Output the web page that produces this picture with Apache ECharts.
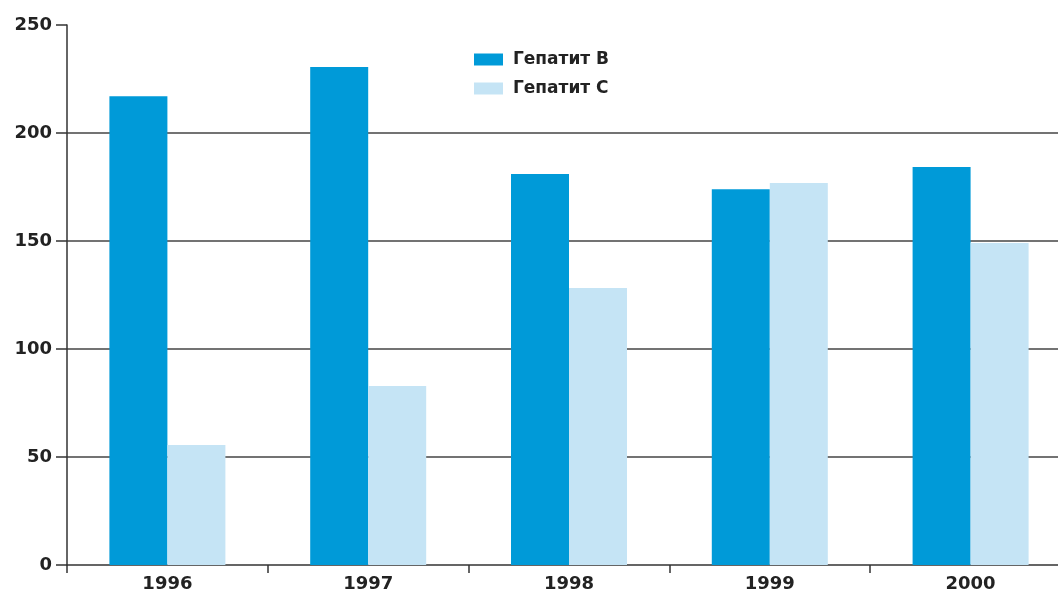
<!DOCTYPE html>
<html><head><meta charset="utf-8">
<script src="https://cdn.jsdelivr.net/npm/echarts@6/dist/echarts.min.js"></script>
<style>html,body{margin:0;padding:0;background:#fff}#c{width:1058px;height:592px}</style>
</head><body><div id="c"></div>
<script>
const categories = ['1996','1997','1998','1999','2000'];
const hepB = [217, 230.5, 181, 174, 184.3];
const hepC = [55.6, 82.9, 128.2, 176.9, 149.1];
const seriesNames = ['Гепатит В', 'Гепатит С'];
const font = 'DejaVu Sans, Arial, sans-serif';
const chart = echarts.init(document.getElementById('c'));
chart.setOption({
  animation: false,
  backgroundColor: '#fff',
  grid: {left: 67, width: 1004, top: 25, height: 540, containLabel: false, outerBoundsMode: 'none'},
  legend: {
    left: 469, top: 46, orient: 'vertical', itemWidth: 29, itemHeight: 12, itemGap: 12,
    icon: 'rect',
    textStyle: {fontFamily: font, fontSize: 17, fontWeight: 'bold', color: '#222', padding: [0,0,0,5]},
    data: seriesNames
  },
  xAxis: {
    type: 'category', data: categories,
    axisLine: {lineStyle: {color: '#333', width: 1.5}},
    axisTick: {show: true, length: 8, lineStyle: {color: '#333', width: 1.5}},
    axisLabel: {fontFamily: font, fontSize: 18, fontWeight: 'bold', color: '#222', margin: 10}
  },
  yAxis: {
    type: 'value', min: 0, max: 250, interval: 50,
    axisLine: {show: true, lineStyle: {color: '#333', width: 1.5}},
    axisTick: {show: true, length: 11, lineStyle: {color: '#333', width: 1.5}},
    axisLabel: {fontFamily: font, fontSize: 18, fontWeight: 'bold', color: '#222', margin: 15},
    splitLine: {show: true, showMaxLine: false, showMinLine: false, lineStyle: {color: '#444', width: 1.5}}
  },
  series: [
    {name: seriesNames[0], type: 'bar', data: hepB, barWidth: 58, barGap: '0%', itemStyle: {color: '#009ad8'}},
    {name: seriesNames[1], type: 'bar', data: hepC, barWidth: 58, barGap: '0%', itemStyle: {color: '#c5e4f5'}}
  ]
});
</script></body></html>
